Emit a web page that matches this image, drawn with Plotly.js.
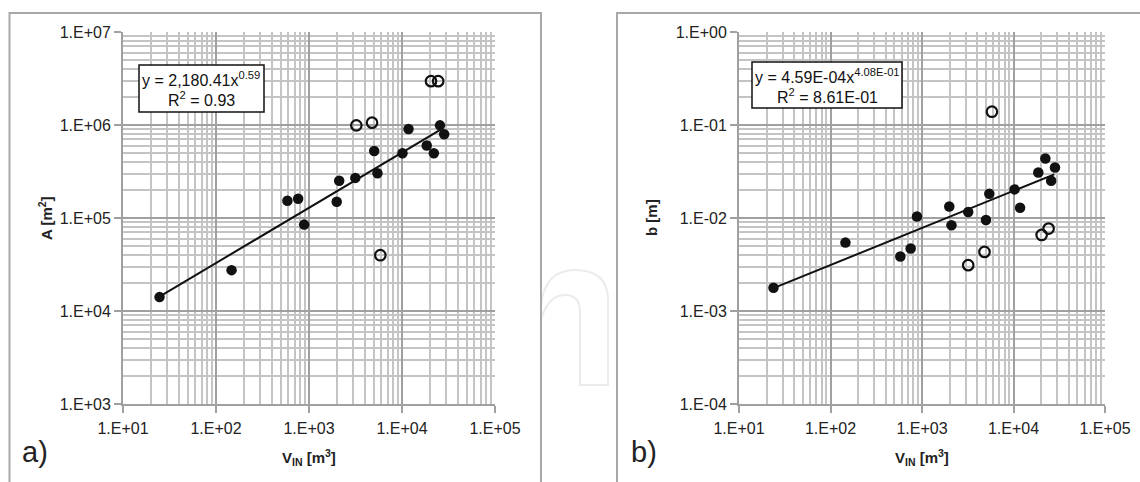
<!DOCTYPE html>
<html>
<head>
<meta charset="utf-8">
<script src="https://cdn.plot.ly/plotly-3.0.1.min.js"></script>
<style>html,body{margin:0;padding:0;background:#fff;}#chart{width:1140px;height:482px;}</style>
</head>
<body>
<div id="chart"></div>
<script>
// ---- data ----
const xTickVals = [10, 100, 1000, 10000, 100000];
const xTickText = ["1.E+01", "1.E+02", "1.E+03", "1.E+04", "1.E+05"];
const yATickVals = [1e3, 1e4, 1e5, 1e6, 1e7];
const yATickText = ["1.E+03", "1.E+04", "1.E+05", "1.E+06", "1.E+07"];
const yBTickVals = [1e-4, 1e-3, 1e-2, 1e-1, 1];
const yBTickText = ["1.E-04", "1.E-03", "1.E-02", "1.E-01", "1.E+00"];

// panel a) A [m2] vs V_IN
const vinAFilled = [24.7, 147, 586, 764, 887, 1986, 2112, 3148, 5023, 5445, 10120, 11750, 18450, 22000, 25600, 28400];
const areaFilled = [14100, 27500, 153500, 161000, 84900, 149700, 251000, 270000, 526000, 303000, 497000, 906000, 601000, 497000, 991000, 795000];
const vinAOpen = [3228, 4763, 5846, 20500, 24500];
const areaOpen = [991000, 1060000, 39800, 2960000, 2960000];
const trendAX = [24.7, 26000];
const trendAY = [14300, 890000];

// panel b) b [m] vs V_IN
const vinBFilled = [23.8, 145.6, 580, 752, 881, 1986, 2100, 3200, 5000, 5440, 10260, 11800, 18660, 22300, 25800, 28400];
const bFilled = [0.00178, 0.00544, 0.00385, 0.00469, 0.0104, 0.0133, 0.00834, 0.0116, 0.00952, 0.0182, 0.0203, 0.0129, 0.0308, 0.0436, 0.0251, 0.0349];
const vinBOpen = [3200, 4820, 5810, 20300, 24200];
const bOpen = [0.00311, 0.00432, 0.139, 0.00657, 0.00769];
const trendBX = [23.8, 27900];
const trendBY = [0.00176, 0.0295];

const eqA1 = "y = 2,180.41x<sup>0.59</sup>";
const eqA2 = "R<sup>2</sup> = 0.93";
const eqB1 = "y = 4.59E-04x<sup>4.08E-01</sup>";
const eqB2 = "R<sup>2</sup> = 8.61E-01";

// ---- styling ----
const FONT = "'Liberation Sans', Arial, Helvetica, sans-serif";
const W = 1140, H = 482;
const px = v => v / W;
const py = v => 1 - v / H;

function axisBase(extra) {
  return Object.assign({
    type: 'log',
    showline: true, linecolor: '#a0a0a0', linewidth: 2,
    ticks: 'outside', ticklen: 7, tickcolor: '#a0a0a0', tickwidth: 2,
    showgrid: true, gridcolor: '#a0a0a0', gridwidth: 2,
    minor: {showgrid: true, gridcolor: '#c4c4c4', gridwidth: 2, dtick: 'D1', ticks: ''},
    tickmode: 'array',
    tickfont: {family: FONT, size: 16, color: '#222'},
    zeroline: false, fixedrange: true
  }, extra);
}

const filledMarker = {symbol: 'circle', size: 10.5, color: '#111', line: {width: 0}};
const openMarker = {symbol: 'circle-open', size: 10.5, color: '#111', line: {width: 2.2, color: '#111'}};

const traces = [
  {x: trendAX, y: trendAY, mode: 'lines', line: {color: '#111', width: 2}, xaxis: 'x', yaxis: 'y', hoverinfo: 'skip'},
  {x: vinAFilled, y: areaFilled, mode: 'markers', marker: filledMarker, xaxis: 'x', yaxis: 'y'},
  {x: vinAOpen, y: areaOpen, mode: 'markers', marker: openMarker, xaxis: 'x', yaxis: 'y'},
  {x: trendBX, y: trendBY, mode: 'lines', line: {color: '#111', width: 2}, xaxis: 'x2', yaxis: 'y2', hoverinfo: 'skip'},
  {x: vinBFilled, y: bFilled, mode: 'markers', marker: filledMarker, xaxis: 'x2', yaxis: 'y2'},
  {x: vinBOpen, y: bOpen, mode: 'markers', marker: openMarker, xaxis: 'x2', yaxis: 'y2'}
];

const titleFont = {family: FONT, size: 15, color: '#222'};
const eqFont = {family: FONT, size: 16, color: '#111'};

function txt(x, y, text, font, extra) {
  return Object.assign({xref: 'paper', yref: 'paper', x: px(x), y: py(y), xanchor: 'center', yanchor: 'middle',
    text: text, showarrow: false, font: font}, extra || {});
}

const layout = {
  width: W, height: H,
  margin: {l: 0, r: 0, t: 0, b: 0},
  paper_bgcolor: '#fff', plot_bgcolor: '#fff',
  showlegend: false,
  xaxis: axisBase({domain: [px(123), px(495)], range: [1, 5], tickvals: xTickVals, ticktext: xTickText, anchor: 'y', ticklabelstandoff: 2}),
  yaxis: axisBase({domain: [py(404), py(32)], range: [3, 7], tickvals: yATickVals, ticktext: yATickText, anchor: 'x', ticklabelstandoff: 0}),
  xaxis2: axisBase({domain: [px(739), px(1105)], range: [1, 5], tickvals: xTickVals, ticktext: xTickText, anchor: 'y2', ticklabelstandoff: 2}),
  yaxis2: axisBase({domain: [py(404), py(32)], range: [-4, 0], tickvals: yBTickVals, ticktext: yBTickText, anchor: 'x2', ticklabelstandoff: 0}),
  shapes: [
    {type: 'path', xref: 'paper', yref: 'paper', layer: 'below',
     path: 'M ' + px(541) + ' ' + py(305) + ' Q ' + px(545) + ' ' + py(270) + ' ' + px(575) + ' ' + py(270) +
           ' Q ' + px(608) + ' ' + py(270) + ' ' + px(608) + ' ' + py(300) +
           ' L ' + px(608) + ' ' + py(385) + ' L ' + px(580) + ' ' + py(385) + ' L ' + px(580) + ' ' + py(312) +
           ' Q ' + px(580) + ' ' + py(295) + ' ' + px(565) + ' ' + py(295) + ' Q ' + px(548) + ' ' + py(295) + ' ' + px(541) + ' ' + py(320),
     line: {color: '#ebebeb', width: 2}},
    {type: 'rect', xref: 'paper', yref: 'paper', x0: px(9.5), x1: px(541), y0: -0.1, y1: py(13), line: {color: '#a8a8a8', width: 2}, fillcolor: 'rgba(255,255,255,0)', layer: 'below'},
    {type: 'rect', xref: 'paper', yref: 'paper', x0: px(617), x1: 1.1, y0: -0.1, y1: py(13), line: {color: '#a8a8a8', width: 2}, layer: 'below'},
    {type: 'rect', xref: 'paper', yref: 'paper', x0: px(139), x1: px(264), y0: py(112), y1: py(65), line: {color: '#111', width: 1.5}, fillcolor: '#fff', layer: 'above'},
    {type: 'rect', xref: 'paper', yref: 'paper', x0: px(752), x1: px(902), y0: py(108), y1: py(62), line: {color: '#111', width: 1.5}, fillcolor: '#fff', layer: 'above'}
  ],
  annotations: [
    txt(201, 79, eqA1, eqFont),
    txt(201, 99, eqA2, eqFont),
    txt(827, 76, eqB1, eqFont),
    txt(827, 96, eqB2, eqFont),
    txt(46, 218, '<b>A [m<sup>2</sup>]</b>', titleFont, {textangle: -90}),
    txt(652, 218, '<b>b [m]</b>', titleFont, {textangle: -90}),
    txt(309, 457, '<b>V<sub>IN</sub> [m<sup>3</sup>]</b>', titleFont),
    txt(922, 457, '<b>V<sub>IN</sub> [m<sup>3</sup>]</b>', titleFont),
    txt(20, 452, 'a)', {family: FONT, size: 29, color: '#222'}, {xanchor: 'left'}),
    txt(629, 452, 'b)', {family: FONT, size: 29, color: '#222'}, {xanchor: 'left'})
  ]
};

Plotly.newPlot('chart', traces, layout, {staticPlot: true, displayModeBar: false});
</script>
</body>
</html>
